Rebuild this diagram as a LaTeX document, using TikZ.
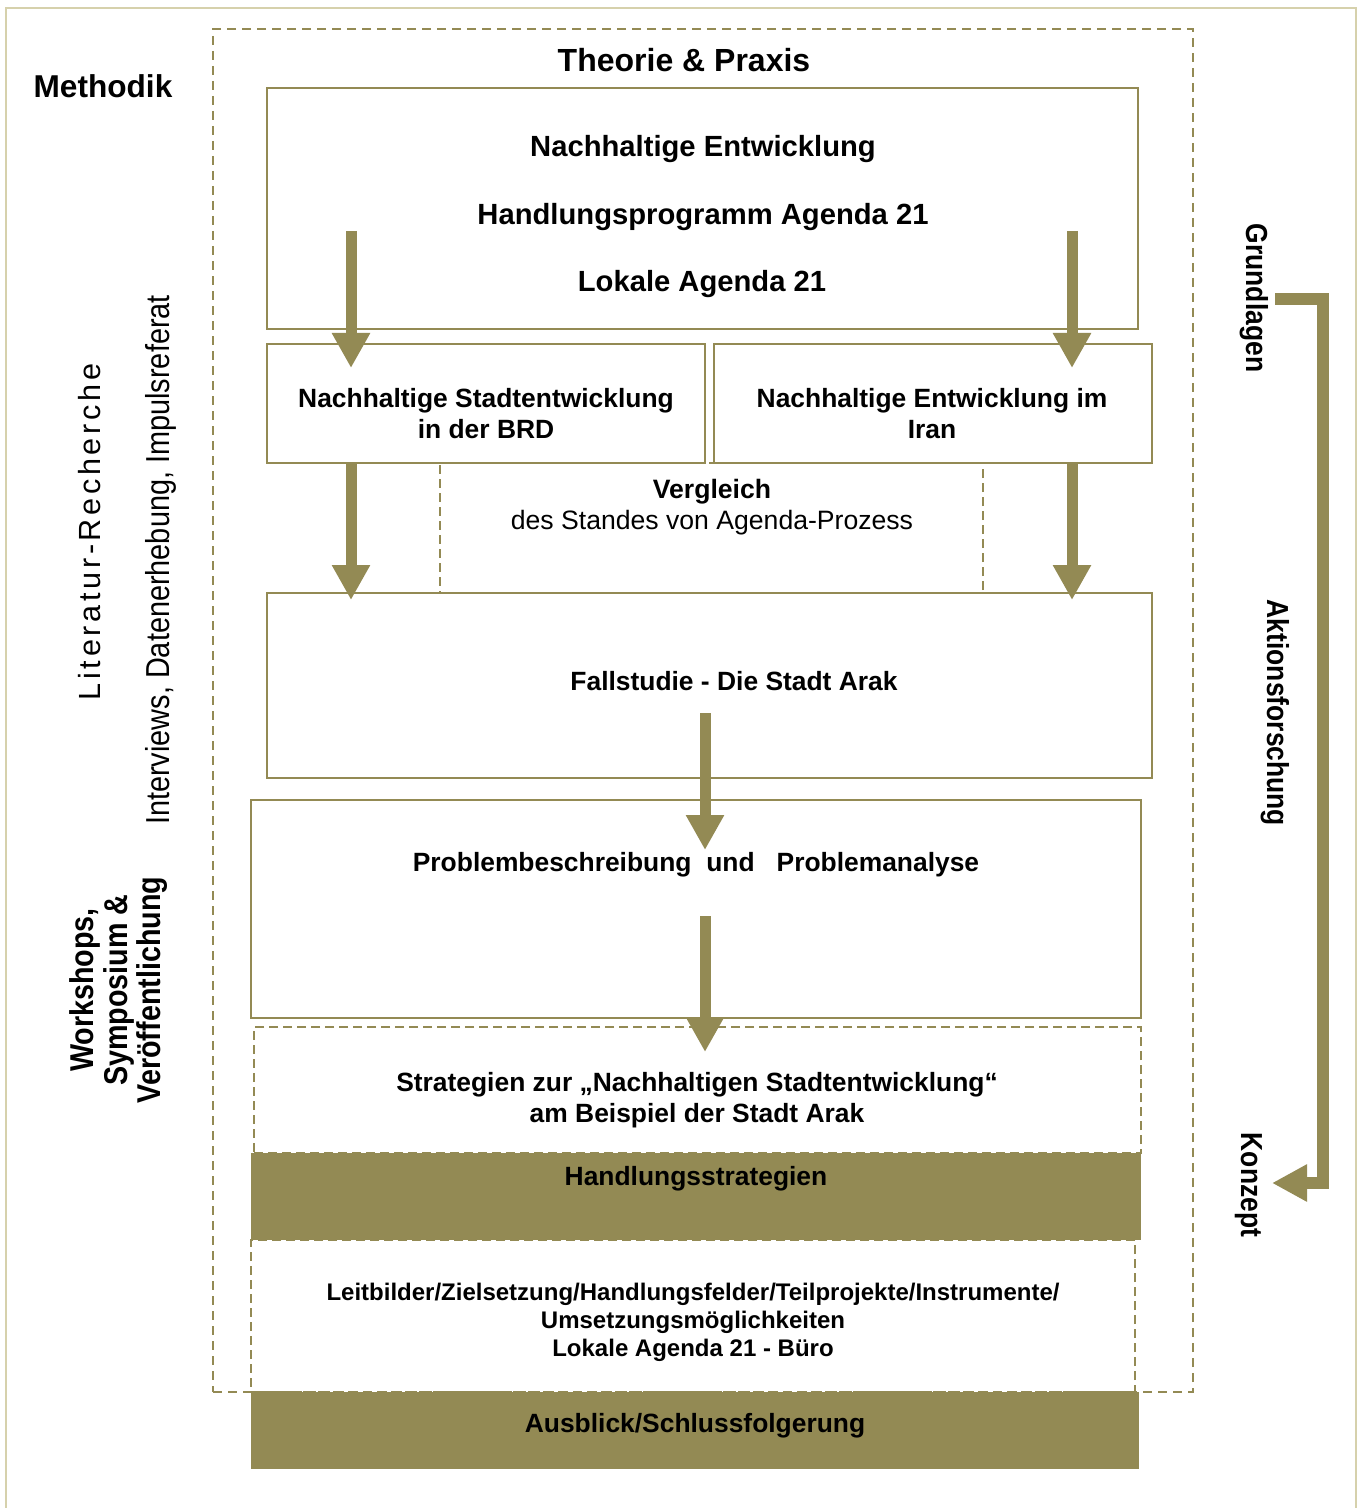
\documentclass[tikz,border=0pt]{standalone}
\usepackage{fontspec}
\setmainfont{Liberation Sans}
\newfontfamily\spacedfont[LetterSpace=12]{Liberation Sans}
\newfontfamily\narrowfont[FakeStretch=0.87]{Liberation Sans}
\usetikzlibrary{arrows.meta}
\definecolor{agenda}{RGB}{147,138,84}
\definecolor{framecol}{RGB}{214,209,172}

% box given by its corners in pixel units: name, style, x1, y1, x2, y2
\newcommand\pxbox[6]{%
  \node[#2, minimum width={(#5-#3)*0.5pt}, minimum height={(#6-#4)*0.5pt}]
    (#1) at ({(#3+#5)/2},{(#4+#6)/2}) {};}

% text nodes are placed at the middle of the capitals of their last line
\tikzset{
  solidbox/.style={draw=agenda, line width=1.2pt, inner sep=0pt, outer sep=0pt},
  dashbox/.style={draw=agenda, line width=1pt, dash pattern=on 4.5pt off 2.5pt,
    inner sep=0pt, outer sep=0pt},
  framebox/.style={draw=agenda, line width=1pt, dash pattern=on 4.5pt off 3pt,
    inner sep=0pt, outer sep=0pt},
  fillbox/.style={fill=agenda, draw=none, inner sep=0pt, outer sep=0pt},
  flow/.style={draw=agenda, line width=5.5pt,
    -{Triangle[length=17.5pt,width=18pt]}},
  phase/.style={draw=agenda, line width=6pt, line join=miter,
    -{Triangle[length=17.5pt,width=17.5pt]}},
  lbl/.style={inner sep=0pt, outer sep=0pt, align=center, text depth=0pt},
  tTitle/.style={lbl, font=\bfseries\fontsize{16}{19}\selectfont, text height=11.5pt},
  tMeth/.style={lbl, font=\bfseries\fontsize{15.8}{19}\selectfont, text height=11.3pt},
  tTop/.style={lbl, font=\bfseries\fontsize{14.6}{17}\selectfont, text height=10.45pt},
  tBody/.style={lbl, font=\bfseries\fontsize{13.2}{15.5}\selectfont, text height=9.45pt},
  tPlain/.style={lbl, font=\fontsize{13.3}{15.5}\selectfont, text height=9.5pt},
  tSmall/.style={lbl, font=\bfseries\fontsize{12}{14}\selectfont, text height=8.6pt},
  tSpaced/.style={lbl, font=\spacedfont\fontsize{15.3}{18}\selectfont, text height=11pt},
  tSideReg/.style={lbl, font=\narrowfont\fontsize{16.6}{19}\selectfont, text height=11.9pt},
  tSideBold/.style={lbl, font=\narrowfont\bfseries\fontsize{16.5}{16.75}\selectfont, text height=11.8pt},
  tRight/.style={lbl, font=\narrowfont\bfseries\fontsize{15.2}{17}\selectfont, text height=10.9pt},
}

\begin{document}
\begin{tikzpicture}[x=0.5pt, y=-0.5pt]
\useasboundingbox (0,0) rectangle (1357,1508);

% light outer frame, open at the bottom
\coordinate (fbl) at (6,1508);
\coordinate (ftl) at (6,8);
\coordinate (ftr) at (1356,8);
\coordinate (fbr) at (1356,1508);
\draw[framecol, line width=1.3pt] (fbl) -- (ftl) -- (ftr) -- (fbr);

% dashed frame around theory and practice
\pxbox{tp}{framebox}{213}{29}{1193}{1392}

% boxes
\pxbox{top}{solidbox}{267}{88}{1138}{329}
\pxbox{brd}{solidbox}{267}{344}{705}{463}
\pxbox{iran}{solidbox}{714}{344}{1152}{463}
\pxbox{vgl}{dashbox}{440}{463}{983}{593}
\pxbox{fall}{solidbox}{267}{593}{1152}{778}
\pxbox{prob}{solidbox}{251}{800}{1141}{1018}
\pxbox{strat}{dashbox}{254}{1027}{1141}{1153}
\pxbox{leit}{dashbox}{251}{1240}{1135}{1392}
\pxbox{hand}{fillbox}{251}{1153}{1141}{1240}
\pxbox{ausb}{fillbox}{251}{1392}{1139}{1469}

% labels
\node[tMeth] (methodik) at (103,86) {Methodik};
\node[tTitle] (theorie) at (684,60) {Theorie \& Praxis};
\node[tTop] (ne) at (703,146) {Nachhaltige Entwicklung};
\node[tTop] (hp) at (703,214) {Handlungsprogramm Agenda 21};
\node[tTop] (la) at (702,281) {Lokale Agenda 21};
\node[tBody] (brdtxt) at (486,429) {Nachhaltige Stadtentwicklung\\in der BRD};
\node[tBody] (irantxt) at (932,429) {Nachhaltige Entwicklung im\\Iran};
\node[tPlain] (vgltxt) at (712,520) {\textbf{Vergleich}\\des Standes von Agenda-Prozess};
\node[tBody] (falltxt) at (734,681) {Fallstudie - Die Stadt Arak};
\node[tBody] (probtxt) at (696,862) {Problembeschreibung\ \ und\ \ \ Problemanalyse};
\node[tBody] (strattxt) at (697,1113) {Strategien zur „Nachhaltigen Stadtentwicklung“\\am Beispiel der Stadt Arak};
\node[tBody] (handtxt) at (696,1176) {Handlungsstrategien};
\node[tSmall] (leittxt) at (693,1348) {Leitbilder/Zielsetzung/Handlungsfelder/Teilprojekte/Instrumente/\\Umsetzungsmöglichkeiten\\Lokale Agenda 21 - Büro};
\node[tBody] (ausbtxt) at (695,1423) {Ausblick/Schlussfolgerung};

% method labels on the left
\node[tSpaced, rotate=90] (litrech) at (89,532) {Literatur-Recherche};
\node[tSideReg, rotate=90] (interv) at (158,560) {Interviews, Datenerhebung, Impulsreferat};
\node[tSideBold, rotate=90] (workshops) at (149,990) {Workshops,\\Symposium \&\\Veröffentlichung};

% phase labels on the right
\node[tRight, rotate=-90] (grund) at (1257,298) {Grundlagen};
\node[tRight, rotate=-90] (aktion) at (1278,713) {Aktionsforschung};
\node[tRight, rotate=-90] (konzept) at (1252,1185) {Konzept};

% flow arrows
\coordinate (a1s) at (351,231);  \coordinate (a1e) at (351,368);
\coordinate (a2s) at (1072,231); \coordinate (a2e) at (1072,368);
\coordinate (a3s) at (351,463);  \coordinate (a3e) at (351,600);
\coordinate (a4s) at (1072,463); \coordinate (a4e) at (1072,600);
\coordinate (a5s) at (705,713);  \coordinate (a5e) at (705,850);
\coordinate (a6s) at (705,916);  \coordinate (a6e) at (705,1052);
\draw[flow] (a1s) -- (a1e);
\draw[flow] (a2s) -- (a2e);
\draw[flow] (a3s) -- (a3e);
\draw[flow] (a4s) -- (a4e);
\draw[flow] (a5s) -- (a5e);
\draw[flow] (a6s) -- (a6e);

% phase bracket from Grundlagen to Konzept
\coordinate (p0) at (1275,299);
\coordinate (pc) at (1322.5,1183);
\coordinate (p1) at (1272,1183);
\draw[phase] (p0) -| (pc) -- (p1);
\end{tikzpicture}
\end{document}
